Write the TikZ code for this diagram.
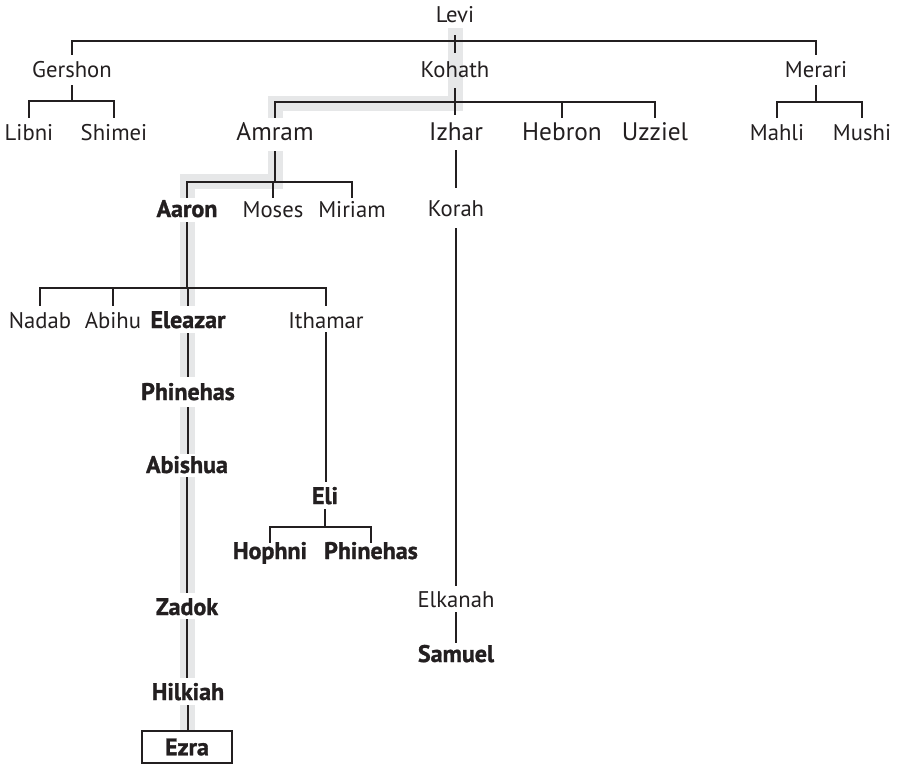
\documentclass[tikz,border=0pt]{standalone}
\usepackage{fontspec}
\setmainfont{PT Sans}[BoldFeatures={FakeBold=1.2}]
\usetikzlibrary{backgrounds}
\newdimen\pxu \pxu=0.75pt
\definecolor{ink}{HTML}{231F20}
\definecolor{bandgray}{HTML}{E6E7E8}
\tikzset{
  nm/.style={anchor=base, inner xsep=3\pxu, inner ysep=0pt, text=ink,
    font=\fontsize{17}{20}\selectfont},
  big/.style={nm, font=\fontsize{19}{22}\selectfont},
  bd/.style={nm, font=\fontsize{18}{21}\selectfont\bfseries},
  wh/.style={fill=white},
  hd/.style 2 args={text height=#1\pxu, text depth=#2\pxu},
  ln/.style={draw=ink, line width=1.05pt},
  band/.style={draw=bandgray, line width=15\pxu, line join=miter},
}
\begin{document}
\begin{tikzpicture}[x=\pxu, y=-\pxu]
\useasboundingbox (0,0) rectangle (899,764);
% highlight band
\begin{scope}[on background layer]
\draw[band] (455,28) -- (455,103.5) -- (275,103.5) -- (275,181) -- (187,181) -- (187,731);
\end{scope}
% nodes
\node[nm, hd={18}{13}] (levi) at (455,22) {Levi};
\node[nm, hd={22}{8}] (gershon) at (72,77) {Gershon};
\node[nm, hd={24}{11}] (kohath) at (455,77) {Kohath};
\node[nm, hd={22}{8}] (merari) at (816,77) {Merari};
\node[nm, hd={22}{5}] (libni) at (29,140) {Libni};
\node[nm, hd={22}{5}] (shimei) at (114,140) {Shimei};
\node[big, wh, hd={22}{11}] (amram) at (275,140) {Amram};
\node[big, hd={25}{10}] (izhar) at (456,140) {Izhar};
\node[big, hd={22}{5}] (hebron) at (562,140) {Hebron};
\node[big, hd={22}{5}] (uzziel) at (655,140) {Uzziel};
\node[nm, hd={22}{5}] (mahli) at (777,140) {Mahli};
\node[nm, hd={22}{5}] (mushi) at (862,140) {Mushi};
\node[nm, hd={28}{12}] (korah) at (456,216) {Korah};
\node[bd, wh, hd={19}{5}] (aaron) at (187,217) {Aaron};
\node[nm, hd={19}{5}] (moses) at (273,217) {Moses};
\node[nm, hd={19}{5}] (miriam) at (352,217) {Miriam};
\node[nm, hd={22}{5}] (nadab) at (40,328) {Nadab};
\node[nm, hd={22}{5}] (abihu) at (113,328) {Abihu};
\node[bd, wh, hd={22}{5}] (eleazar) at (188,328) {Eleazar};
\node[nm, hd={22}{4}] (ithamar) at (326,328) {Ithamar};
\node[bd, wh, hd={23}{7}] (phinehas) at (188,400) {Phinehas};
\node[bd, wh, hd={19}{4}] (abishua) at (187,473) {Abishua};
\node[bd, hd={22}{5}] (eli) at (325,504) {Eli};
\node[bd, hd={16}{5}] (hophni) at (270,559) {Hophni};
\node[bd, hd={16}{5}] (phinehasb) at (371,559) {Phinehas};
\node[bd, wh, hd={22}{4}] (zadok) at (187,615) {Zadok};
\node[bd, wh, hd={22}{5}] (hilkiah) at (188,700) {Hilkiah};
\node[bd, anchor=center, draw=ink, line width=0.8pt, fill=white,
      minimum width=90\pxu, minimum height=32\pxu] (ezra) at (187,747) {Ezra};
\node[nm, hd={21}{5}] (elkanah) at (456,607) {Elkanah};
\node[bd, hd={19}{5}] (samuel) at (456,662) {Samuel};
% bar coordinates
\coordinate (bL) at (455,41);
\coordinate (bG) at (72,101);
\coordinate (bK) at (455,102);
\coordinate (bM) at (818,102);
\coordinate (bA) at (275,182);
\coordinate (bAa) at (187,288);
\coordinate (bE) at (325,527);
% connectors
\begin{scope}[on background layer]
\draw[ln] (gershon.north) |- (bL) -| (merari.north);
\draw[ln] (levi.south) -- (kohath.north);
\draw[ln] (gershon.south) -- (bG);
\draw[ln] (libni.north) |- (bG) -| (shimei.north);
\draw[ln] (kohath.south) -- (kohath.south |- izhar.north);
\draw[ln] (amram.north) |- (bK) -| (uzziel.north);
\draw[ln] (hebron.north) -- (hebron.north |- bK);
\draw[ln] (merari.south) -- (merari.south |- bM);
\draw[ln] (mahli.north) |- (bM) -| (mushi.north);
\draw[ln] (amram.south) -- (bA);
\draw[ln] (aaron.north) |- (bA) -| (miriam.north);
\draw[ln] (moses.north) -- (moses.north |- bA);
\draw[ln] (izhar.south) -- (izhar.south |- korah.north);
\draw[ln] (korah.south) -- (korah.south |- elkanah.north);
\draw[ln] (elkanah.south) -- (elkanah.south |- samuel.north);
\draw[ln] (aaron.south) -- (bAa);
\draw[ln] (nadab.north) |- (bAa) -| (ithamar.north);
\draw[ln] (abihu.north) -- (abihu.north |- bAa);
\draw[ln] (eleazar.north) -- (eleazar.north |- bAa);
\draw[ln] (eleazar.south) -- (eleazar.south |- phinehas.north);
\draw[ln] (phinehas.south) -- (phinehas.south |- abishua.north);
\draw[ln] (abishua.south) -- (abishua.south |- zadok.north);
\draw[ln] (zadok.south) -- (zadok.south |- hilkiah.north);
\draw[ln] (hilkiah.south) -- (hilkiah.south |- ezra.north);
\draw[ln] (ithamar.south) -- (ithamar.south |- eli.north);
\draw[ln] (eli.south) -- (bE);
\draw[ln] (hophni.north) |- (bE) -| (phinehasb.north);
\end{scope}
\end{tikzpicture}
\end{document}
